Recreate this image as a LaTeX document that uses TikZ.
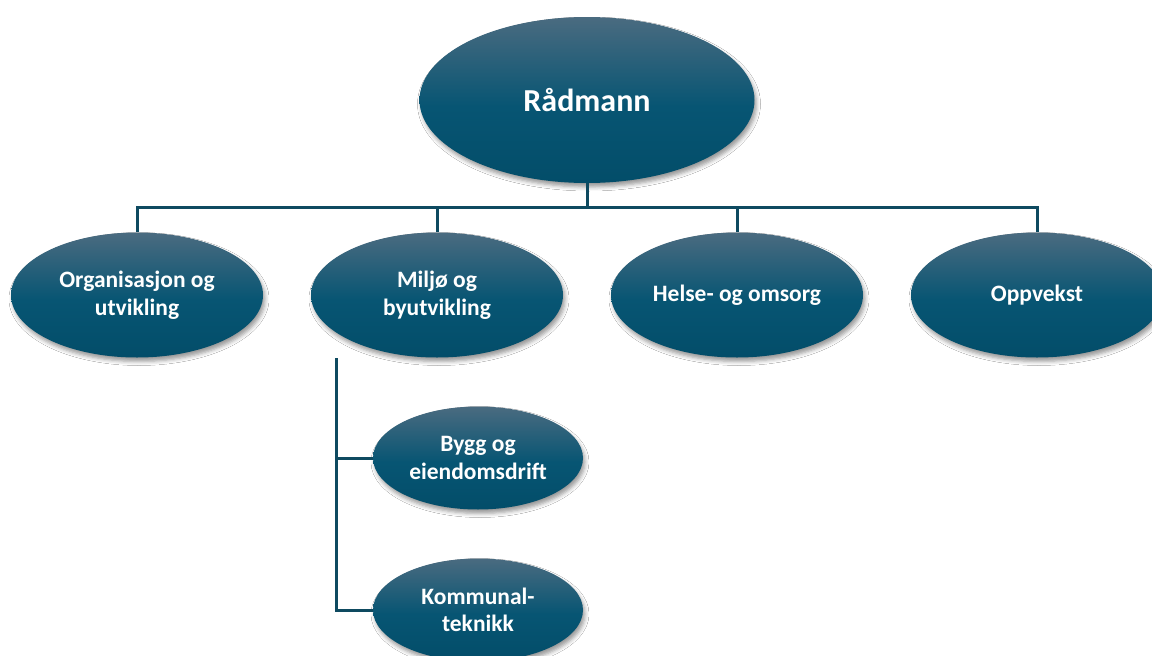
\documentclass[tikz,border=0pt]{standalone}
\usepackage{fontspec}
\setmainfont{Carlito}
\usetikzlibrary{shapes.geometric,shadows.blur}
\definecolor{ctop}{HTML}{4A6B80}
\definecolor{cmid}{HTML}{075573}
\definecolor{cbot}{HTML}{034D69}
\definecolor{lineC}{HTML}{0E4A60}
\pgfdeclareverticalshading{ellgrad}{100bp}{color(0bp)=(cbot); color(25bp)=(cbot); color(48bp)=(cmid); color(75bp)=(ctop); color(100bp)=(ctop)}
\tikzset{
  unit/.style={ellipse, shading=ellgrad, draw=none, inner sep=0pt, align=center,
    text=white, font=\fontsize{23.5}{27.5}\selectfont\bfseries,
    blur shadow={shadow xshift=2pt, shadow yshift=-4pt, shadow blur radius=4pt, shadow opacity=40}},
  big/.style={unit, minimum width=335pt, minimum height=166pt, font=\fontsize{32}{38}\selectfont\bfseries},
  mid/.style={unit, minimum width=252pt, minimum height=125pt},
  small/.style={unit, minimum width=210pt, minimum height=103pt},
  conn/.style={draw=lineC, line width=3pt}
}
\begin{document}
\begin{tikzpicture}[x=1pt,y=-1pt]
\useasboundingbox (0,0) rectangle (1152,656);
\fill[white] (0,0) rectangle (1152,656);
\node[big] (r) at (587,100) {Rådmann};
\node[mid] (o1) at (137,295) {Organisasjon og\\utvikling};
\node[mid] (o2) at (437,295) {Miljø og\\byutvikling};
\node[mid] (o3) at (737,295) {Helse- og omsorg};
\node[mid] (o4) at (1037,295) {Oppvekst};
\node[small] (s1) at (478,458) {Bygg og\\eiendomsdrift};
\node[small] (s2) at (478,610) {Kommunal-\\teknikk};
\coordinate (bus) at (587,207);
\coordinate (sub) at (336,358);
\draw[conn] (r.south) -- (bus);
\draw[conn] (bus) -| (o1.north);
\draw[conn] (bus) -| (o2.north);
\draw[conn] (bus) -| (o3.north);
\draw[conn] (bus) -| (o4.north);
\draw[conn] (sub) |- (s1.west);
\draw[conn] (sub) |- (s2.west);
\end{tikzpicture}
\end{document}
